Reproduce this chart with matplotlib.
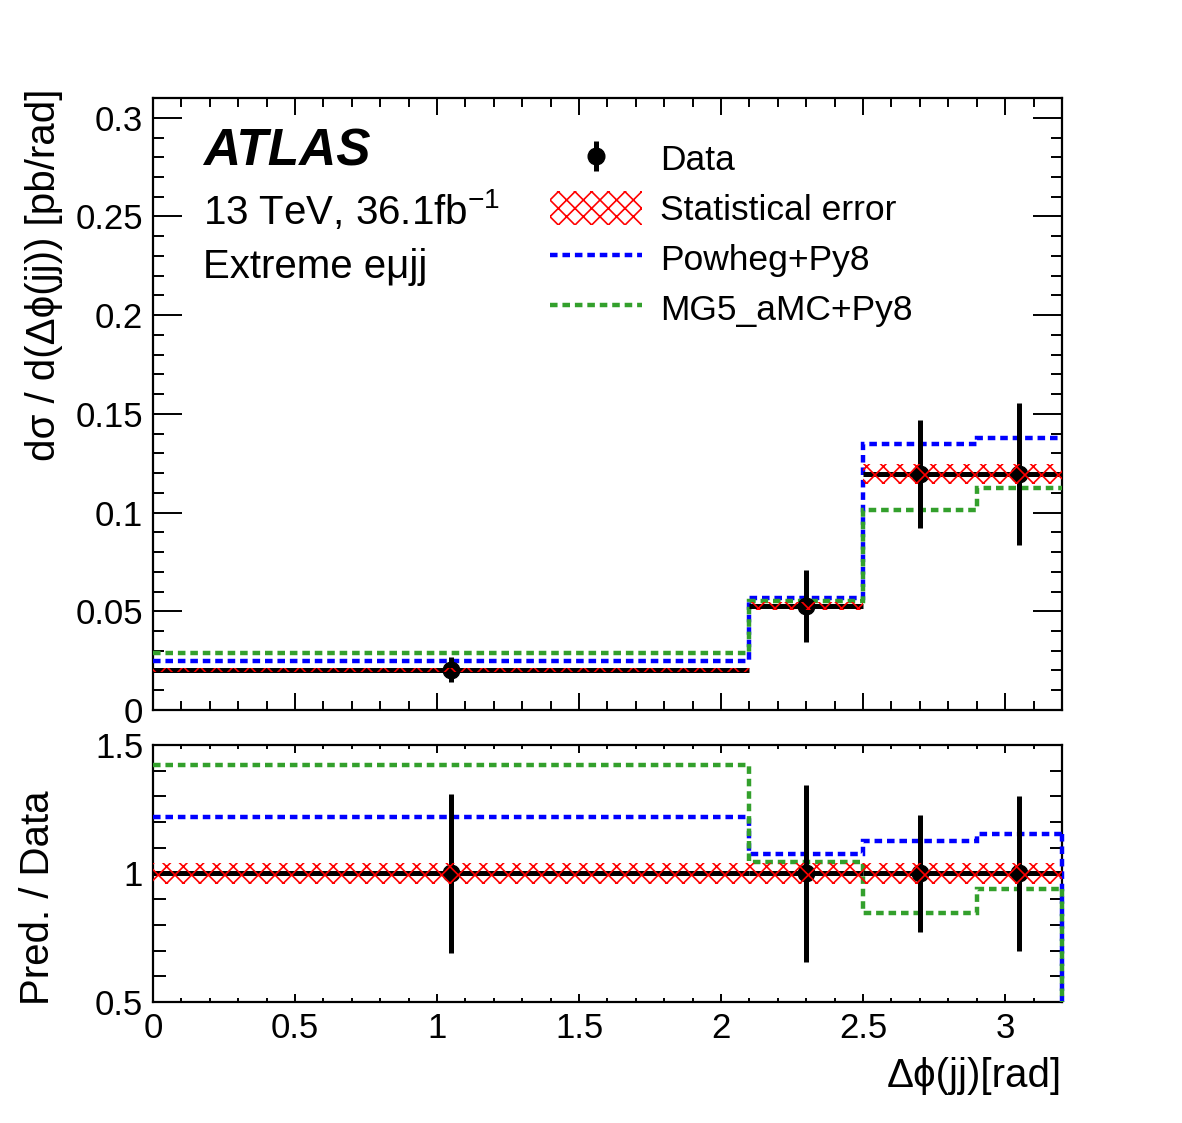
import numpy as np
import matplotlib
matplotlib.use('Agg')
import matplotlib.pyplot as plt
from matplotlib.lines import Line2D
from matplotlib.patches import Patch
from matplotlib.ticker import MultipleLocator, FuncFormatter

plt.rcParams['font.family'] = ['Liberation Sans', 'DejaVu Sans']
plt.rcParams['mathtext.default'] = 'regular'
plt.rcParams['hatch.linewidth'] = 1.2

# bin edges in delta phi(jj) [rad]
edges = np.array([0.0, 2.1, 2.5, 2.9, 3.2])
data = np.array([0.0203, 0.0527, 0.1196, 0.1196])
data_err = np.array([0.0063, 0.0182, 0.0273, 0.0360])
stat_rel = np.array([0.042, 0.042, 0.042, 0.042])
powheg = np.array([0.0248, 0.0567, 0.1348, 0.1379])
mg5 = np.array([0.0289, 0.0550, 0.1014, 0.1125])

centers = 0.5 * (edges[:-1] + edges[1:])
half_w = 0.5 * np.diff(edges)

c_blue = '#0000ff'
c_green = '#33a02c'
dots = (0, (1.7, 1.1))

fig = plt.figure(figsize=(11.82, 11.23), dpi=100)
ax1 = fig.add_axes([0.1294, 0.3678, 0.769, 0.5449])
ax2 = fig.add_axes([0.1294, 0.1078, 0.769, 0.2288])

gfmt = FuncFormatter(lambda v, p: '%g' % round(v, 4))


def draw_panel(ax, d, derr, pw, mg, band_lo, band_hi):
    ax.stairs(pw, edges, color=c_blue, lw=3.2, ls=dots, baseline=None, zorder=3)
    ax.stairs(mg, edges, color=c_green, lw=3.2, ls=dots, baseline=None, zorder=3)
    ax.errorbar(centers, d, yerr=derr, xerr=half_w, fmt='o', color='black',
                ms=12, elinewidth=3.6, capsize=0, zorder=4)
    xs = np.repeat(edges, 2)[1:-1]
    ax.fill_between(xs, np.repeat(band_lo, 2), np.repeat(band_hi, 2),
                    facecolor='none', edgecolor='red', hatch='xx', lw=0, zorder=5)


# main panel
draw_panel(ax1, data, data_err, powheg, mg5,
           data * (1 - stat_rel), data * (1 + stat_rel))
ax1.set_xlim(edges[0], edges[-1])
ax1.set_ylim(0, 0.31)
ax1.xaxis.set_major_locator(MultipleLocator(0.5))
ax1.xaxis.set_minor_locator(MultipleLocator(0.1))
ax1.yaxis.set_major_locator(MultipleLocator(0.05))
ax1.yaxis.set_minor_locator(MultipleLocator(0.01))
ax1.yaxis.set_major_formatter(gfmt)
ax1.tick_params(which='both', direction='in', top=True, right=True, labelbottom=False,
                labelsize=25, pad=7, width=1.4)
ax1.tick_params(axis='y', which='major', length=21)
ax1.tick_params(axis='y', which='minor', length=8)
ax1.tick_params(axis='x', which='major', length=12)
ax1.tick_params(axis='x', which='minor', length=6.5)
ax1.set_ylabel('d\u03c3 / d(\u0394\u03d5(jj)) [pb/rad]', fontsize=29, loc='top')
ax1.yaxis.set_label_coords(-0.099, 1.015)

# ratio panel
ratio_err = data_err / data
ones = np.ones_like(data)
draw_panel(ax2, ones, ratio_err, powheg / data, mg5 / data,
           1 - stat_rel, 1 + stat_rel)
ax2.plot([edges[-1], edges[-1]], [powheg[-1] / data[-1], 0.5], color=c_blue,
         lw=3.2, ls=dots, zorder=3, clip_on=False)
ax2.plot([edges[-1], edges[-1]], [mg5[-1] / data[-1], 0.5], color=c_green,
         lw=3.2, ls=dots, zorder=3, clip_on=False)
ax2.set_xlim(edges[0], edges[-1])
ax2.set_ylim(0.5, 1.5)
ax2.xaxis.set_major_locator(MultipleLocator(0.5))
ax2.xaxis.set_minor_locator(MultipleLocator(0.1))
ax2.yaxis.set_major_locator(MultipleLocator(0.5))
ax2.yaxis.set_minor_locator(MultipleLocator(0.1))
ax2.xaxis.set_major_formatter(gfmt)
ax2.yaxis.set_major_formatter(gfmt)
ax2.tick_params(which='both', direction='in', top=True, right=True,
                labelsize=25, pad=7, width=1.4)
ax2.tick_params(axis='y', which='major', length=20)
ax2.tick_params(axis='y', which='minor', length=9)
ax2.tick_params(axis='x', which='major', length=6)
ax2.tick_params(axis='x', which='minor', length=3)
ax2.set_ylabel('Pred. / Data', fontsize=29)
ax2.yaxis.set_label_coords(-0.106, 0.407)
ax2.set_xlabel('\u0394\u03d5(jj)[rad]', fontsize=29, loc='right')
ax2.xaxis.set_label_coords(1.0, -0.215)

for ax in (ax1, ax2):
    for sp in ax.spines.values():
        sp.set_linewidth(1.6)

# labels
ax1.text(0.055, 0.912, 'ATLAS', transform=ax1.transAxes, fontsize=37,
         fontweight='bold', fontstyle='italic', va='center')
ax1.text(0.055, 0.817, '13 TeV, 36.1fb$^{-1}$', transform=ax1.transAxes,
         fontsize=29, va='center')
ax1.text(0.055, 0.724, 'Extreme e\u03bcjj', transform=ax1.transAxes,
         fontsize=29, va='center')

# legend
h_data = (Line2D([], [], marker='o', color='black', ls='none', ms=12),
          Line2D([], [], marker='|', color='black', ls='none', ms=22, mew=3.6))
h_stat = Patch(facecolor='none', edgecolor='red', hatch='xx', lw=0)
h_pw = Line2D([], [], color=c_blue, lw=3.2, ls=dots)
h_mg = Line2D([], [], color=c_green, lw=3.2, ls=dots)
fig.legend([h_data, h_stat, h_pw, h_mg],
           ['Data', 'Statistical error', 'Powheg+Py8', 'MG5_aMC+Py8'],
           loc='upper left', bbox_to_anchor=(0.4535, 0.887), frameon=False,
           fontsize=25.5, handlelength=2.6, handleheight=1.1, handletextpad=0.5,
           labelspacing=0.39, borderaxespad=0)

fig.savefig('out.png', dpi=100)
